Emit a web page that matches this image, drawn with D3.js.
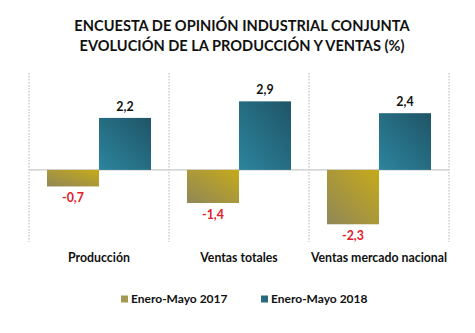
<!DOCTYPE html>
<html>
<head>
<meta charset="utf-8">
<script src="https://cdn.jsdelivr.net/npm/d3@7"></script>
<style>
  body { margin: 0; background: #fff; }
  svg { display: block; font-family: Lato, "Open Sans", sans-serif; }
</style>
</head>
<body>
<div id="chart"></div>
<script>
// data
var categories = ["Producción", "Ventas totales", "Ventas mercado nacional"];
var seriesNames = ["Enero-Mayo 2017", "Enero-Mayo 2018"];
var values2017 = [-0.7, -1.4, -2.3];
var values2018 = [2.2, 2.9, 2.4];
var titleLines = ["ENCUESTA DE OPINIÓN INDUSTRIAL CONJUNTA", "EVOLUCIÓN DE LA PRODUCCIÓN Y VENTAS (%)"];

var width = 475, height = 333;

var svg = d3.select("#chart").append("svg")
    .attr("width", width)
    .attr("height", height);

// gradients for the bars
var defs = svg.append("defs");
var grads = [
    {id: "g2017", from: "#8f8758", to: "#c6aa1a"},
    {id: "g2018", from: "#2c859e", to: "#1f5466"}
];
grads.forEach(function(g) {
    var lg = defs.append("linearGradient")
        .attr("id", g.id)
        .attr("x1", 0).attr("y1", 1)
        .attr("x2", 1).attr("y2", 0);
    lg.append("stop").attr("offset", "0%").attr("stop-color", g.from);
    lg.append("stop").attr("offset", "100%").attr("stop-color", g.to);
});

// title
svg.selectAll(".title")
    .data(titleLines)
    .enter().append("text")
        .attr("x", 242)
        .attr("y", function(d, i) { return 31 + i * 20; })
        .attr("text-anchor", "middle")
        .attr("font-size", 14.6)
        .attr("font-weight", "bold")
        .attr("fill", "#111")
        .text(function(d) { return d; });

// scales
var xScale = d3.scaleBand()
    .domain(categories)
    .range([29, 449]);

var xSub = d3.scaleBand()
    .domain(seriesNames)
    .range([0, xScale.bandwidth()])
    .paddingInner(0)
    .paddingOuter(0.346);

var yScale = d3.scaleLinear()
    .domain([-3.05, 4.1])
    .range([242, 73]);

// dotted vertical separators
var bounds = categories.map(function(c) { return xScale(c); });
bounds.push(xScale.range()[1]);
svg.selectAll(".sep")
    .data(bounds)
    .enter().append("line")
        .attr("x1", function(d) { return d; })
        .attr("x2", function(d) { return d; })
        .attr("y1", yScale.range()[1])
        .attr("y2", yScale.range()[0])
        .attr("stroke", "#b5b5b5")
        .attr("stroke-width", 1)
        .attr("stroke-dasharray", "1.5,1.5");

// zero line
svg.append("line")
    .attr("x1", 29).attr("x2", 449)
    .attr("y1", yScale(0)).attr("y2", yScale(0))
    .attr("stroke", "#c8c8c8")
    .attr("stroke-width", 1.2);

// bars
var rows = categories.map(function(c, i) {
    return {cat: c, vals: [
        {key: seriesNames[0], value: values2017[i], grad: "g2017"},
        {key: seriesNames[1], value: values2018[i], grad: "g2018"}
    ]};
});

var groups = svg.append("g")
    .selectAll("g")
    .data(rows)
    .enter().append("g")
        .attr("transform", function(d) { return "translate(" + xScale(d.cat) + ",0)"; });

groups.selectAll("rect")
    .data(function(d) { return d.vals; })
    .enter().append("rect")
        .attr("x", function(d) { return xSub(d.key); })
        .attr("y", function(d) { return yScale(Math.max(0, d.value)); })
        .attr("width", xSub.bandwidth())
        .attr("height", function(d) { return Math.abs(yScale(d.value) - yScale(0)); })
        .attr("fill", function(d) { return "url(#" + d.grad + ")"; });

// value labels (comma decimal, plain hyphen)
var fmt = function(v) { return d3.format(".1f")(v).replace(".", ",").replace("\u2212", "-"); };
groups.selectAll(".val")
    .data(function(d) { return d.vals; })
    .enter().append("text")
        .attr("x", function(d) { return xSub(d.key) + xSub.bandwidth() / 2; })
        .attr("y", function(d) {
            return d.value >= 0 ? yScale(d.value) - 7 : yScale(d.value) + 16;
        })
        .attr("text-anchor", "middle")
        .attr("font-size", 12.4)
        .attr("font-weight", "bold")
        .attr("fill", function(d) { return d.value < 0 ? "#e3202a" : "#111"; })
        .text(function(d) { return fmt(d.value); });

// category labels
svg.selectAll(".cat")
    .data(categories)
    .enter().append("text")
        .attr("x", function(d) { return xScale(d) + xScale.bandwidth() / 2; })
        .attr("y", 262)
        .attr("text-anchor", "middle")
        .attr("font-size", 12.3)
        .attr("font-weight", "bold")
        .attr("fill", "#111")
        .text(function(d) { return d; });

// legend
var legendX = [121, 261];
var legendColors = ["#a39a52", "#2a6a7e"];
var legend = svg.selectAll(".leg")
    .data(seriesNames)
    .enter().append("g")
        .attr("transform", function(d, i) { return "translate(" + legendX[i] + ",299)"; });
legend.append("rect")
    .attr("x", 0).attr("y", -3.5)
    .attr("width", 7).attr("height", 7)
    .attr("fill", function(d, i) { return legendColors[i]; });
legend.append("text")
    .attr("x", 10)
    .attr("y", 4.3)
    .attr("font-size", 12)
    .attr("font-weight", "bold")
    .attr("fill", "#111")
    .text(function(d) { return d; });
</script>
</body>
</html>
